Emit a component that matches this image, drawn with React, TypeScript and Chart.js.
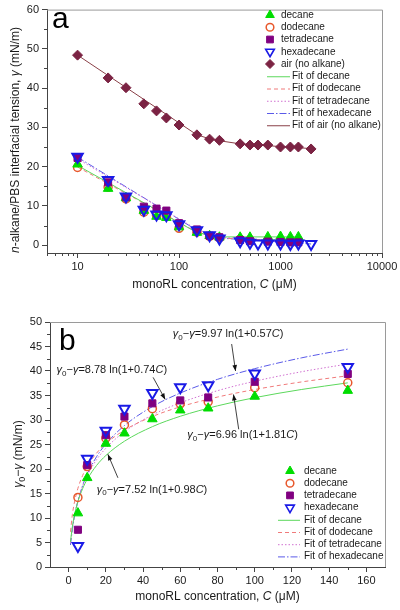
import React, { useEffect, useRef } from 'react';
import { Chart, registerables } from 'chart.js';

Chart.register(...registerables);

const FONT = '"Liberation Sans", Arial, Helvetica, sans-serif';

// ---------------- Panel a data ----------------
const concA = [10, 20, 30, 45, 60, 75, 100, 150, 200, 250, 400, 500, 750, 1000, 1250, 1500];
const concHexA = [10, 20, 30, 45, 60, 75, 100, 150, 200, 250, 400, 500, 600, 750, 1000, 1250, 1500, 2000];
const concAirA = [10, 20, 30, 45, 60, 75, 100, 150, 200, 250, 400, 500, 600, 750, 1000, 1250, 1500, 2000];
const decaneA = [20.6, 14.4, 12.0, 8.8, 7.3, 7.0, 4.6, 3.2, 2.4, 2.0, 2.0, 2.0, 2.1, 2.2, 2.1, 2.1];
const dodecaneA = [19.8, 14.8, 11.8, 8.4, 7.6, 7.3, 4.3, 3.3, 2.2, 1.9, 1.5, 1.3, 1.2, 1.1, 1.0, 1.0];
const tetradecaneA = [22.2, 16.0, 12.2, 9.8, 9.3, 8.8, 5.6, 4.0, 2.4, 2.0, 1.3, 1.0, 0.9, 0.8, 0.7, 0.7];
const hexadecaneA = [22.5, 16.6, 12.4, 9.0, 7.8, 7.6, 5.3, 3.8, 2.5, 1.7, 1.0, 0.6, 0.4, 0.4, 0.4, 0.3, 0.4, 0.3];
const airA = [48.4, 42.6, 40.1, 36.0, 34.2, 32.4, 30.6, 28.1, 27.0, 26.7, 25.8, 25.5, 25.5, 25.5, 25.0, 25.0, 25.0, 24.5];

const fitConcA = [10, 150, 250, 1500];
const fitConcHexA = [10, 150, 250, 2000];
const fitConcAirA = [10, 150, 200, 250, 400, 2000];
const decaneFitA = [20.3, 3.2, 2.1, 2.1];
const dodecaneFitA = [19.9, 3.3, 1.8, 1.0];
const tetradecaneFitA = [22.0, 4.0, 2.0, 0.7];
const hexadecaneFitA = [22.4, 3.8, 1.8, 0.3];
const airFitA = [48.4, 28.1, 27.1, 26.6, 25.8, 24.6];

const xTicksA = [10, 100, 1000, 10000];
const yTicksA = [0, 10, 20, 30, 40, 50, 60];
const xMinorA = [5, 6, 7, 8, 9, 20, 30, 40, 50, 60, 70, 80, 90, 200, 300, 400, 500, 600, 700, 800, 900, 2000, 3000, 4000, 5000, 6000, 7000, 8000, 9000];
const yMinorA = [5, 15, 25, 35, 45, 55];

// ---------------- Panel b data ----------------
const concB = [5, 10, 20, 30, 45, 60, 75, 100, 150];
const decaneB = [11.0, 18.2, 25.2, 27.3, 30.2, 32.0, 32.4, 34.8, 36.0];
const dodecaneB = [14.2, 20.5, 26.3, 29.0, 32.3, 33.3, 33.7, 36.6, 37.6];
const tetradecaneB = [7.6, 20.8, 26.9, 30.7, 33.4, 34.0, 34.6, 37.8, 39.4];
const hexadecaneB = [4.3, 22.1, 27.8, 32.3, 35.5, 36.7, 37.1, 39.5, 40.8];

const fitConcB = [1, 2, 3, 5, 7.5, 10, 15, 20, 30, 45, 60, 80, 100, 125, 150];
const decaneFitB = [5.14, 8.16, 10.31, 13.35, 15.96, 17.9, 20.71, 22.75, 25.67, 28.64, 30.76, 32.89, 34.56, 36.22, 37.58];
const dodecaneFitB = [7.19, 10.65, 12.95, 16.06, 18.65, 20.53, 23.23, 25.17, 27.93, 30.71, 32.69, 34.68, 36.22, 37.76, 39.03];
const tetradecaneFitB = [4.86, 7.97, 10.27, 13.59, 16.5, 18.68, 21.89, 24.23, 27.61, 31.04, 33.5, 35.98, 37.91, 39.84, 41.43];
const hexadecaneFitB = [4.5, 7.59, 9.94, 13.44, 16.58, 18.96, 22.5, 25.1, 28.87, 32.73, 35.5, 38.3, 40.48, 42.67, 44.47];

const xTicksB = [0, 20, 40, 60, 80, 100, 120, 140, 160];
const yTicksB = [0, 5, 10, 15, 20, 25, 30, 35, 40, 45, 50];
const xMinorB = [10, 30, 50, 70, 90, 110, 130, 150];
const yMinorB = [2.5, 7.5, 12.5, 17.5, 22.5, 27.5, 32.5, 37.5, 42.5, 47.5];

// fit equations: [coefficient, constant], label anchor & arrow (data coords)
const eqCoefB = ['9.97', '8.78', '6.96', '7.52'];
const eqKB = ['0.57', '0.74', '1.81', '0.98'];
const eqPosB = [[56, 47.5], [-6.5, 40.2], [63.8, 26.9], [15.1, 15.8]];
const eqArrowB = [
  [87.6, 45.5, 89.7, 40.0],
  [45.4, 38.7, 51.9, 34.2],
  [91.4, 28.1, 88.6, 35.2],
  [26.5, 18.2, 21.1, 23.0],
];

// ---------------- styles ----------------
type Shape = 'tri' | 'triDown' | 'circle' | 'square' | 'diamond';
type MStyle = { shape: Shape; color: string; filled: boolean; r: number; bw: number };
type LStyle = { color: string; dash: number[] };

const M_DEC: MStyle = { shape: 'tri', color: '#00dd00', filled: true, r: 5.5, bw: 1 };
const M_DOD: MStyle = { shape: 'circle', color: '#e8582c', filled: false, r: 4, bw: 1.5 };
const M_TET: MStyle = { shape: 'square', color: '#800080', filled: true, r: 5, bw: 1 };
const M_HEX: MStyle = { shape: 'triDown', color: '#1a1ae6', filled: false, r: 6, bw: 2 };
const M_AIR: MStyle = { shape: 'diamond', color: '#7b2343', filled: true, r: 5, bw: 1 };

const L_DEC: LStyle = { color: '#5cd85c', dash: [] };
const L_DOD: LStyle = { color: '#f07a7a', dash: [4, 3] };
const L_TET: LStyle = { color: '#d070d0', dash: [1.5, 2] };
const L_HEX: LStyle = { color: '#5a5ae8', dash: [7, 2, 1.5, 2] };
const L_AIR: LStyle = { color: '#8a4048', dash: [] };

const pointStyleOf = (s: Shape) =>
  s === 'tri' || s === 'triDown' ? 'triangle' : s === 'circle' ? 'circle' : s === 'square' ? 'rect' : 'rectRot';

function pts(xs: number[], ys: number[]) {
  return xs.map((x, i) => ({ x, y: ys[i] }));
}

function markerDs(label: string, xs: number[], ys: number[], m: MStyle, order: number) {
  return {
    label,
    data: pts(xs, ys),
    showLine: false,
    pointStyle: pointStyleOf(m.shape),
    rotation: m.shape === 'triDown' ? 180 : 0,
    pointRadius: m.r,
    pointBorderWidth: m.bw,
    pointBackgroundColor: m.filled ? m.color : 'rgba(255,255,255,0)',
    pointBorderColor: m.color,
    backgroundColor: m.color,
    borderColor: m.color,
    order,
  };
}

function fitDs(label: string, xs: number[], ys: number[], l: LStyle, smooth: boolean) {
  return {
    label,
    data: pts(xs, ys),
    showLine: true,
    pointRadius: 0,
    borderColor: l.color,
    borderWidth: 1,
    borderDash: l.dash,
    cubicInterpolationMode: smooth ? 'monotone' : 'default',
    tension: 0,
    fill: false,
    order: 10,
  };
}

// ---------------- drawing helpers ----------------
type Seg = { t: string; it?: boolean; sub?: boolean };

function fontFor(size: number, s: Seg) {
  const sz = s.sub ? Math.round(size * 0.72) : size;
  return `${s.it ? 'italic ' : ''}${sz}px ${FONT}`;
}

function drawRich(ctx: CanvasRenderingContext2D, segs: Seg[], x: number, y: number, size: number,
  align: 'left' | 'center', rot = 0, color = '#1a1a1a') {
  ctx.save();
  ctx.translate(x, y);
  if (rot) ctx.rotate(rot);
  ctx.fillStyle = color;
  ctx.textBaseline = 'middle';
  ctx.textAlign = 'left';
  const ws = segs.map((s) => { ctx.font = fontFor(size, s); return ctx.measureText(s.t).width; });
  const total = ws.reduce((a, b) => a + b, 0);
  let cx = align === 'center' ? -total / 2 : 0;
  segs.forEach((s, i) => {
    ctx.font = fontFor(size, s);
    ctx.fillText(s.t, cx, s.sub ? size * 0.32 : 0);
    cx += ws[i];
  });
  ctx.restore();
}

function drawMarker(ctx: CanvasRenderingContext2D, m: MStyle, x: number, y: number, r: number) {
  ctx.save();
  ctx.beginPath();
  const s = 0.866 * r;
  switch (m.shape) {
    case 'tri':
      ctx.moveTo(x, y - r); ctx.lineTo(x + s, y + r / 2); ctx.lineTo(x - s, y + r / 2); ctx.closePath(); break;
    case 'triDown':
      ctx.moveTo(x, y + r); ctx.lineTo(x + s, y - r / 2); ctx.lineTo(x - s, y - r / 2); ctx.closePath(); break;
    case 'circle':
      ctx.arc(x, y, r * 0.85, 0, Math.PI * 2); break;
    case 'square': {
      const h = r * 0.75; ctx.rect(x - h, y - h, 2 * h, 2 * h); break;
    }
    case 'diamond':
      ctx.moveTo(x, y - r); ctx.lineTo(x + r, y); ctx.lineTo(x, y + r); ctx.lineTo(x - r, y); ctx.closePath(); break;
  }
  if (m.filled) { ctx.fillStyle = m.color; ctx.fill(); }
  ctx.lineWidth = m.bw;
  ctx.strokeStyle = m.color;
  ctx.stroke();
  ctx.restore();
}

function drawArrow(ctx: CanvasRenderingContext2D, x1: number, y1: number, x2: number, y2: number) {
  ctx.save();
  ctx.strokeStyle = '#111';
  ctx.fillStyle = '#111';
  ctx.lineWidth = 0.8;
  ctx.beginPath(); ctx.moveTo(x1, y1); ctx.lineTo(x2, y2); ctx.stroke();
  const a = Math.atan2(y2 - y1, x2 - x1);
  const L = 6, W = 2.3;
  ctx.beginPath();
  ctx.moveTo(x2, y2);
  ctx.lineTo(x2 - L * Math.cos(a) + W * Math.sin(a), y2 - L * Math.sin(a) - W * Math.cos(a));
  ctx.lineTo(x2 - L * Math.cos(a) - W * Math.sin(a), y2 - L * Math.sin(a) + W * Math.cos(a));
  ctx.closePath(); ctx.fill();
  ctx.restore();
}

type LegendItem = { text: string; m?: MStyle; l?: LStyle };
type Decor = {
  xMinor: number[]; yMinor: number[];
  xTitle: Seg[]; xTitleY: number;
  yTitle: Seg[]; yTitleX: number; yTitleY: number;
  panel: string; panelX: number; panelY: number;
  legend: LegendItem[]; legY0: number; legStep: number;
  legMarkerX: number; legTextX: number; legLineX1: number; legLineX2: number; legLineTextX: number;
  equations?: boolean;
};

function decorPlugin(d: Decor) {
  return {
    id: 'decor' + d.panel,
    afterDraw(chart: any) {
      const ctx: CanvasRenderingContext2D = chart.ctx;
      const { left, right, top, bottom } = chart.chartArea;
      const xs = chart.scales.x;
      const ys = chart.scales.y;
      ctx.save();
      // frame top / right
      ctx.strokeStyle = '#9a9a9a';
      ctx.lineWidth = 1;
      ctx.beginPath();
      ctx.moveTo(left, top + 0.5); ctx.lineTo(right + 0.5, top + 0.5); ctx.lineTo(right + 0.5, bottom);
      ctx.stroke();
      // minor ticks
      ctx.strokeStyle = '#444';
      ctx.beginPath();
      d.xMinor.forEach((v) => {
        const px = Math.round(xs.getPixelForValue(v)) + 0.5;
        ctx.moveTo(px, bottom); ctx.lineTo(px, bottom + 3);
      });
      d.yMinor.forEach((v) => {
        const py = Math.round(ys.getPixelForValue(v)) + 0.5;
        ctx.moveTo(left, py); ctx.lineTo(left - 3, py);
      });
      ctx.stroke();
      ctx.restore();

      // titles
      drawRich(ctx, d.xTitle, (left + right) / 2, d.xTitleY, 12, 'center');
      drawRich(ctx, d.yTitle, d.yTitleX, d.yTitleY, 12, 'center', -Math.PI / 2);

      // panel letter
      ctx.save();
      ctx.font = `30px ${FONT}`;
      ctx.fillStyle = '#000';
      ctx.textBaseline = 'alphabetic';
      ctx.textAlign = 'left';
      ctx.fillText(d.panel, d.panelX, d.panelY);
      ctx.restore();

      // legend
      d.legend.forEach((it, i) => {
        const y = d.legY0 + i * d.legStep;
        if (it.m) {
          const mm = { ...it.m, bw: Math.min(it.m.bw, 1.6) };
          drawMarker(ctx, mm, d.legMarkerX, y, it.m.shape === 'tri' || it.m.shape === 'triDown' ? 5 : 4.5);
          drawRich(ctx, [{ t: it.text }], d.legTextX, y, 10, 'left');
        } else if (it.l) {
          ctx.save();
          ctx.strokeStyle = it.l.color;
          ctx.lineWidth = 1;
          ctx.setLineDash(it.l.dash);
          ctx.beginPath(); ctx.moveTo(d.legLineX1, y + 0.5); ctx.lineTo(d.legLineX2, y + 0.5); ctx.stroke();
          ctx.restore();
          drawRich(ctx, [{ t: it.text }], d.legLineTextX, y, 10, 'left');
        }
      });

      // equations with arrows
      if (d.equations) {
        eqCoefB.forEach((c, i) => {
          const segs: Seg[] = [
            { t: 'γ', it: true }, { t: '0', sub: true }, { t: '−' }, { t: 'γ', it: true },
            { t: '=' + c + ' ln(1+' + eqKB[i] }, { t: 'C', it: true }, { t: ')' },
          ];
          drawRich(ctx, segs, xs.getPixelForValue(eqPosB[i][0]), ys.getPixelForValue(eqPosB[i][1]), 11, 'left');
          const a = eqArrowB[i];
          drawArrow(ctx, xs.getPixelForValue(a[0]), ys.getPixelForValue(a[1]), xs.getPixelForValue(a[2]), ys.getPixelForValue(a[3]));
        });
      }
    },
  };
}

function scaleOpts(kind: 'linear' | 'logarithmic', min: number, max: number, ticks: number[], size: number, isX: boolean) {
  return {
    type: kind,
    min,
    max,
    position: isX ? 'bottom' : 'left',
    grid: { display: true, drawOnChartArea: false, drawTicks: true, tickLength: 5, tickColor: '#444', tickWidth: 1 },
    border: { display: true, color: '#444', width: 1 },
    ticks: {
      font: { family: FONT, size: 11 },
      color: '#1a1a1a',
      padding: isX ? 2 : 3,
      autoSkip: false,
      maxRotation: 0,
      callback: (v: number) => String(v),
    },
    title: { display: false },
    afterBuildTicks: (s: any) => { s.ticks = ticks.map((v) => ({ value: v })); },
    afterFit: (s: any) => { if (isX) s.height = size; else s.width = size; },
  };
}

function configA() {
  const datasets = [
    markerDs('hexadecane', concHexA, hexadecaneA, M_HEX, 1),
    markerDs('tetradecane', concA, tetradecaneA, M_TET, 2),
    markerDs('decane', concA, decaneA, M_DEC, 3),
    markerDs('dodecane', concA, dodecaneA, M_DOD, 4),
    markerDs('air (no alkane)', concAirA, airA, M_AIR, 5),
    fitDs('Fit of decane', fitConcA, decaneFitA, L_DEC, false),
    fitDs('Fit of dodecane', fitConcA, dodecaneFitA, L_DOD, false),
    fitDs('Fit of tetradecane', fitConcA, tetradecaneFitA, L_TET, false),
    fitDs('Fit of hexadecane', fitConcHexA, hexadecaneFitA, L_HEX, false),
    fitDs('Fit of air (no alkane)', fitConcAirA, airFitA, L_AIR, false),
  ];
  const decor: Decor = {
    xMinor: xMinorA, yMinor: yMinorA,
    xTitle: [{ t: 'monoRL concentration, ' }, { t: 'C', it: true }, { t: ' (μM)' }], xTitleY: 285,
    yTitle: [{ t: 'n', it: true }, { t: '-alkane/PBS interfacial tension, ' }, { t: 'γ', it: true }, { t: ' (mN/m)' }],
    yTitleX: 16, yTitleY: 140,
    panel: 'a', panelX: 52, panelY: 28,
    legend: [
      { text: 'decane', m: M_DEC }, { text: 'dodecane', m: M_DOD }, { text: 'tetradecane', m: M_TET },
      { text: 'hexadecane', m: M_HEX }, { text: 'air (no alkane)', m: M_AIR },
      { text: 'Fit of decane', l: L_DEC }, { text: 'Fit of dodecane', l: L_DOD }, { text: 'Fit of tetradecane', l: L_TET },
      { text: 'Fit of hexadecane', l: L_HEX }, { text: 'Fit of air (no alkane)', l: L_AIR },
    ],
    legY0: 15, legStep: 12.25,
    legMarkerX: 270, legTextX: 281, legLineX1: 267, legLineX2: 290, legLineTextX: 292,
  };
  return {
    type: 'scatter',
    data: { datasets },
    options: {
      animation: false, responsive: false, devicePixelRatio: 1, events: [],
      layout: { padding: { left: 0, right: 18, top: 8, bottom: 0 } },
      plugins: { legend: { display: false }, tooltip: { enabled: false } },
      scales: {
        x: scaleOpts('logarithmic', 5, 10000, xTicksA, 42, true),
        y: scaleOpts('linear', -2, 60, yTicksA, 47, false),
      },
    },
    plugins: [decorPlugin(decor)],
  };
}

function configB() {
  const datasets = [
    markerDs('hexadecane', concB, hexadecaneB, M_HEX, 1),
    markerDs('tetradecane', concB, tetradecaneB, M_TET, 2),
    markerDs('decane', concB, decaneB, M_DEC, 3),
    markerDs('dodecane', concB, dodecaneB, M_DOD, 4),
    fitDs('Fit of decane', fitConcB, decaneFitB, L_DEC, true),
    fitDs('Fit of dodecane', fitConcB, dodecaneFitB, L_DOD, true),
    fitDs('Fit of tetradecane', fitConcB, tetradecaneFitB, L_TET, true),
    fitDs('Fit of hexadecane', fitConcB, hexadecaneFitB, L_HEX, true),
  ];
  const decor: Decor = {
    xMinor: xMinorB, yMinor: yMinorB,
    xTitle: [{ t: 'monoRL concentration, ' }, { t: 'C', it: true }, { t: ' (μM)' }], xTitleY: 297,
    yTitle: [{ t: 'γ', it: true }, { t: '0', sub: true }, { t: '−' }, { t: 'γ', it: true }, { t: ' (mN/m)' }],
    yTitleX: 19, yTitleY: 154,
    panel: 'b', panelX: 59, panelY: 50,
    legend: [
      { text: 'decane', m: M_DEC }, { text: 'dodecane', m: M_DOD }, { text: 'tetradecane', m: M_TET },
      { text: 'hexadecane', m: M_HEX },
      { text: 'Fit of decane', l: L_DEC }, { text: 'Fit of dodecane', l: L_DOD }, { text: 'Fit of tetradecane', l: L_TET },
      { text: 'Fit of hexadecane', l: L_HEX },
    ],
    legY0: 171, legStep: 12.2,
    legMarkerX: 290, legTextX: 304, legLineX1: 278, legLineX2: 300, legLineTextX: 304,
    equations: true,
  };
  return {
    type: 'scatter',
    data: { datasets },
    options: {
      animation: false, responsive: false, devicePixelRatio: 1, events: [],
      layout: { padding: { left: 0, right: 15, top: 22, bottom: 0 } },
      plugins: { legend: { display: false }, tooltip: { enabled: false } },
      scales: {
        x: scaleOpts('linear', -10, 170, xTicksB, 43, true),
        y: scaleOpts('linear', 0, 50, yTicksB, 50, false),
      },
    },
    plugins: [decorPlugin(decor)],
  };
}

function ChartCanvas({ make, height, top }: { make: () => any; height: number; top: number }) {
  const ref = useRef<HTMLCanvasElement>(null);
  useEffect(() => {
    const chart = new Chart(ref.current as HTMLCanvasElement, make());
    return () => chart.destroy();
  }, []);
  return (
    <canvas
      ref={ref}
      width={400}
      height={height}
      style={{ position: 'absolute', left: 0, top, width: 400, height, display: 'block' }}
    />
  );
}

export default function App() {
  return (
    <div style={{ position: 'absolute', left: 0, top: 0, width: 400, height: 610, background: '#fff', overflow: 'hidden' }}>
      <ChartCanvas make={configA} height={295} top={0} />
      <ChartCanvas make={configB} height={310} top={300} />
    </div>
  );
}
